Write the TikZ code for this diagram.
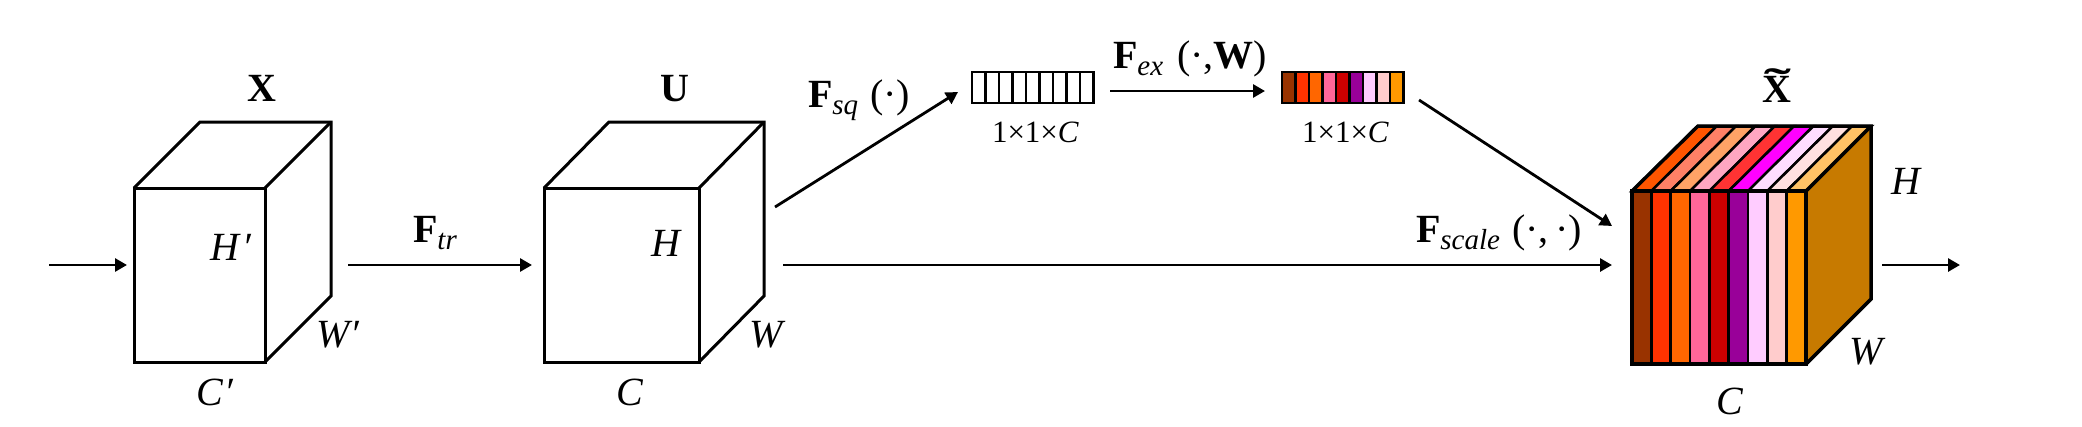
\documentclass[tikz,border=0pt]{standalone}
\usepackage{fontspec}
\usepackage{graphicx}
\setmainfont{Liberation Serif}
\usetikzlibrary{arrows.meta}
\definecolor{c1}{HTML}{993300}\definecolor{c2}{HTML}{FF3300}\definecolor{c3}{HTML}{FF6600}
\definecolor{c4}{HTML}{FF6699}\definecolor{c5}{HTML}{CC0000}\definecolor{c6}{HTML}{990099}
\definecolor{c7}{HTML}{FFCCFF}\definecolor{c8}{HTML}{FFCCCC}\definecolor{c9}{HTML}{FF9900}
\definecolor{t1}{HTML}{FF5500}\definecolor{t2}{HTML}{FF8066}\definecolor{t3}{HTML}{FFA366}
\definecolor{t4}{HTML}{FFA6C2}\definecolor{t5}{HTML}{FF3333}\definecolor{t6}{HTML}{FF00FF}
\definecolor{t7}{HTML}{FFDDFF}\definecolor{t8}{HTML}{FFE0E0}\definecolor{t9}{HTML}{FFC266}
\definecolor{sidec}{HTML}{C77A00}
\tikzset{
  edge/.style={line width=3pt,line join=miter},
  flow/.style={line width=2.8pt,-{Triangle[length=12pt,width=13pt]}},
  lbl/.style={anchor=base west,inner sep=0pt,outer sep=0pt,font=\fontsize{40}{40}\selectfont},
  small/.style={anchor=base west,inner sep=0pt,outer sep=0pt,font=\fontsize{31}{31}\selectfont},
}
\newcommand{\Sb}[1]{\raisebox{-7pt}{\fontsize{29}{29}\selectfont\textit{#1}}}
\begin{document}
\begin{tikzpicture}[x=1pt,y=-1pt]
\useasboundingbox (0,0) rectangle (2082,426);
\fill[white] (0,0) rectangle (2082,426);
% plain cubes
\draw[edge] (134,188) rectangle (265,362);
\draw[edge] (134,188) -- (200,122) -- (331,122) -- (331,296) -- (265,362);
\draw[edge] (265,188) -- (331,122);
\draw[edge] (544,188) rectangle (699,362);
\draw[edge] (544,188) -- (609,122) -- (764,122) -- (764,296) -- (699,362);
\draw[edge] (699,188) -- (764,122);
% coloured cube
\fill[sidec] (1806,191) -- (1871,126) -- (1871,299) -- (1806,364) -- cycle;
\foreach \i in {1,...,9}{
  \pgfmathsetmacro{\xa}{1632+(\i-1)*174/9}
  \pgfmathsetmacro{\xb}{1632+\i*174/9}
  \fill[c\i] (\xa,191) rectangle (\xb,364);
  \filldraw[fill=t\i,draw=black,line width=2.5pt] (\xa,191) -- ({\xa+65.5},126) -- ({\xb+65.5},126) -- (\xb,191) -- cycle;
  \draw[line width=2.5pt] (\xa,191) rectangle (\xb,364);
}
\draw[line width=3.5pt] (1632,191) rectangle (1806,364);
\draw[line width=3.5pt] (1632,191) -- (1698,126) -- (1871,126) -- (1871,299) -- (1806,364);
\draw[line width=3.5pt] (1806,191) -- (1871,126);
% strips
\foreach \i in {1,...,9}{
  \pgfmathsetmacro{\xa}{972+(\i-1)*121.5/9}
  \pgfmathsetmacro{\xb}{972+\i*121.5/9}
  \draw[line width=2.4pt] (\xa,72) rectangle (\xb,103);
  \pgfmathsetmacro{\ya}{1282+(\i-1)*121.5/9}
  \pgfmathsetmacro{\yb}{1282+\i*121.5/9}
  \filldraw[fill=c\i,draw=black,line width=2.4pt] (\ya,72) rectangle (\yb,103);
}
% connector ends
\coordinate (inS) at (49,265); \coordinate (inE) at (127,265);
\coordinate (trS) at (348,265); \coordinate (trE) at (532,265);
\coordinate (mainS) at (783,265); \coordinate (mainE) at (1612,265);
\coordinate (outS) at (1882,265); \coordinate (outE) at (1960,265);
\coordinate (sqS) at (775,207); \coordinate (sqE) at (958,92);
\coordinate (exS) at (1110,91); \coordinate (exE) at (1265,91);
\coordinate (scS) at (1419,100); \coordinate (scE) at (1612,226);
\draw[flow] (inS) -- (inE);
\draw[flow] (trS) -- (trE);
\draw[flow] (mainS) -- (mainE);
\draw[flow] (outS) -- (outE);
\draw[flow] (sqS) -- (sqE);
\draw[flow] (exS) -- (exE);
\draw[flow] (scS) -- (scE);
% labels
\node[lbl,anchor=base] (lx) at (262,101) {\textbf{X}};
\node[lbl,anchor=base] (lu) at (675,101) {\textbf{U}};
\node[lbl,anchor=base] (lxt) at (1777,102) {\textbf{\rlap{\hspace{1.5pt}\raisebox{6pt}{\scalebox{2}[1]{˜}}}X}};
\node[lbl] (fa) at (413,242) {\textbf{F}\Sb{tr}};
\node[lbl] (ha) at (210,260) {\textit{H}\hspace{2pt}\textit{′}};
\node[lbl] (wa) at (316,347) {\textit{W}\hspace{-2pt}\textit{′}};
\node[lbl] (ca) at (196,405) {\textit{C}\hspace{1pt}\textit{′}};
\node[lbl] (hb) at (651,256) {\textit{H}};
\node[lbl] (wb) at (749,347) {\textit{W}};
\node[lbl] (cb) at (616,405) {\textit{C}};
\node[lbl] (hc) at (1891,194) {\textit{H}};
\node[lbl] (wc) at (1849,364) {\textit{W}};
\node[lbl] (cc) at (1716,414) {\textit{C}};
\node[lbl] (fsq) at (808,107) {\textbf{F}\Sb{sq}\ \hspace{2pt}(·)};
\node[lbl] (fex) at (1113,68) {\textbf{F}\Sb{ex}\ \hspace{4pt}(·,\textbf{W})};
\node[lbl] (fsc) at (1416,242) {\textbf{F}\Sb{scale}\ \hspace{2pt}(·,\,·)};
\node[small] (da) at (992,142) {1×1×\textit{C}};
\node[small] (db) at (1302,142) {1×1×\textit{C}};
\end{tikzpicture}
\end{document}
